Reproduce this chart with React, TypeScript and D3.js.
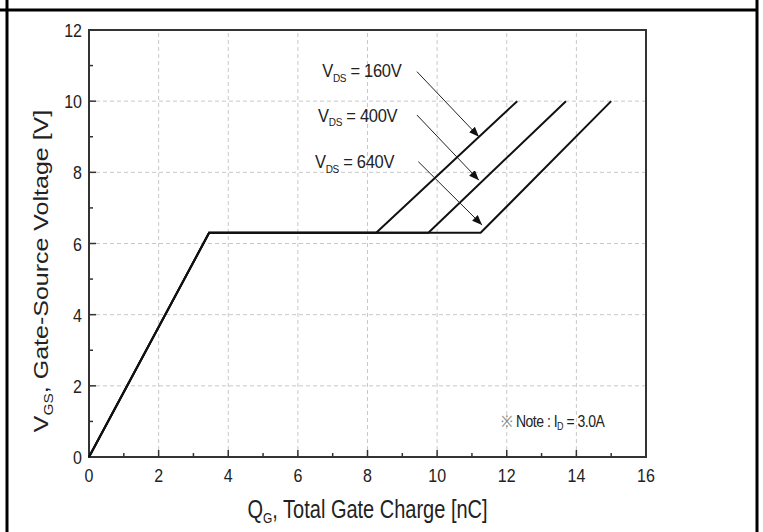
import React, { useEffect, useRef } from 'react';
import * as d3 from 'd3';

// gate charge curves (QG in nC, VGS in V)
const vdsLabels = ['160V', '400V', '640V'];
const riseQ = [0, 3.45];
const riseV = [0, 6.3];
const plateauV = 6.3;
const kneeQ = [8.25, 9.75, 11.25];
const topQ = [12.3, 13.7, 15.0];
const topV = 10;

// annotation arrows, in data units
const arrowFrom = [[9.42, 10.83], [9.42, 9.61], [9.46, 8.3]];
const arrowTo = [[11.2, 9.0], [11.2, 7.78], [11.29, 6.52]];
const labelAt = [[6.7, 10.68], [6.58, 9.42], [6.49, 8.12]];

const xTicks = [0, 2, 4, 6, 8, 10, 12, 14, 16];
const yTicks = [0, 2, 4, 6, 8, 10, 12];
const xMinor = [1, 3, 5, 7, 9, 11, 13, 15];
const yMinor = [1, 3, 5, 7, 9, 11];

const W = 763;
const H = 532;
const FONT = "'Liberation Sans', Arial, Helvetica, sans-serif";
const SY = 1.2; // source picture is a bit taller than wide

const App = () => {
  const svgRef = useRef<SVGSVGElement>(null);

  useEffect(() => {
    const svg = d3.select(svgRef.current);
    svg.selectAll('*').remove();

    const x = d3.scaleLinear().domain([0, 16]).range([89, 646]);
    const y = d3.scaleLinear().domain([0, 12]).range([457, 30]);

    svg.append('rect').attr('width', W).attr('height', H).attr('fill', '#fff');

    // table cell border around the figure
    svg.append('line').attr('x1', 0).attr('x2', 758).attr('y1', 10).attr('y2', 10)
      .attr('stroke', '#000').attr('stroke-width', 3);
    svg.append('line').attr('x1', 7).attr('x2', 7).attr('y1', 0).attr('y2', H)
      .attr('stroke', '#000').attr('stroke-width', 3);
    svg.append('line').attr('x1', 757).attr('x2', 757).attr('y1', 0).attr('y2', H)
      .attr('stroke', '#000').attr('stroke-width', 3);

    const defs = svg.append('defs');
    defs.append('marker')
      .attr('id', 'arrow')
      .attr('markerUnits', 'userSpaceOnUse')
      .attr('markerWidth', 10).attr('markerHeight', 8)
      .attr('refX', 10).attr('refY', 4)
      .attr('orient', 'auto')
      .append('path').attr('d', 'M0,0 L10,4 L0,8 z').attr('fill', '#111');

    // grid
    const grid = svg.append('g')
      .attr('stroke', '#c8c8c8').attr('stroke-width', 1).attr('stroke-dasharray', '4,3');
    xTicks.filter(t => t > 0 && t < 16).forEach(t => {
      grid.append('line').attr('x1', x(t)).attr('x2', x(t)).attr('y1', y(0)).attr('y2', y(12));
    });
    yTicks.filter(t => t > 0 && t < 12).forEach(t => {
      grid.append('line').attr('x1', x(0)).attr('x2', x(16)).attr('y1', y(t)).attr('y2', y(t));
    });

    // ticks, pointing inward
    const tk = svg.append('g').attr('stroke', '#333').attr('stroke-width', 1.5);
    xTicks.forEach(t => tk.append('line').attr('x1', x(t)).attr('x2', x(t)).attr('y1', y(0)).attr('y2', y(0) - 7));
    xMinor.forEach(t => tk.append('line').attr('x1', x(t)).attr('x2', x(t)).attr('y1', y(0)).attr('y2', y(0) - 4));
    yTicks.forEach(t => tk.append('line').attr('x1', x(0)).attr('x2', x(0) + 7).attr('y1', y(t)).attr('y2', y(t)));
    yMinor.forEach(t => tk.append('line').attr('x1', x(0)).attr('x2', x(0) + 4).attr('y1', y(t)).attr('y2', y(t)));

    // plot frame
    svg.append('rect')
      .attr('x', x(0)).attr('y', y(12))
      .attr('width', x(16) - x(0)).attr('height', y(0) - y(12))
      .attr('fill', 'none').attr('stroke', '#333').attr('stroke-width', 2);

    // stretched text helper
    const label = (px: number, py: number, size: number, anchor: string, sy = SY) =>
      svg.append('g').attr('transform', `translate(${px},${py}) scale(1,${sy})`)
        .append('text')
        .attr('text-anchor', anchor)
        .style('font-family', FONT)
        .style('font-size', `${size}px`)
        .style('fill', '#222');

    xTicks.forEach(t => label(x(t), 482, 16, 'middle').text(t));
    yTicks.forEach(t => label(82, y(t) + 7, 16, 'end').text(t));

    // curves
    const line = d3.line<number[]>().x(d => x(d[0])).y(d => y(d[1]));
    vdsLabels.forEach((_, i) => {
      const pts = [
        [riseQ[0], riseV[0]],
        [riseQ[1], riseV[1]],
        [kneeQ[i], plateauV],
        [topQ[i], topV],
      ];
      svg.append('path').attr('d', line(pts))
        .attr('fill', 'none').attr('stroke', '#111').attr('stroke-width', 2);
    });

    // arrows and VDS labels
    vdsLabels.forEach((v, i) => {
      svg.append('line')
        .attr('x1', x(arrowFrom[i][0])).attr('y1', y(arrowFrom[i][1]))
        .attr('x2', x(arrowTo[i][0])).attr('y2', y(arrowTo[i][1]))
        .attr('stroke', '#222').attr('stroke-width', 1)
        .attr('marker-end', 'url(#arrow)');
      const t = label(x(labelAt[i][0]), y(labelAt[i][1]), 16.5, 'start', 1.15)
        .style('letter-spacing', '-0.3px');
      t.append('tspan').text('V');
      t.append('tspan').attr('dy', 4).style('font-size', '10px').text('DS');
      t.append('tspan').attr('dy', -4).text(` = ${v}`);
    });

    // note
    const note = label(501, 427, 14, 'start', 1.15).style('letter-spacing', '-0.5px');
    note.append('tspan').style('fill', '#888').text('※ ');
    note.append('tspan').text('Note : I');
    note.append('tspan').attr('dy', 3).style('font-size', '9px').text('D');
    note.append('tspan').attr('dy', -3).text(' = 3.0A');

    // axis titles
    const xt = label((x(0) + x(16)) / 2, 518, 20, 'middle', 1.25);
    xt.append('tspan').text('Q');
    xt.append('tspan').attr('dy', 4).style('font-size', '12px').text('G');
    xt.append('tspan').attr('dy', -4).text(', Total Gate Charge [nC]');

    const yt = svg.append('g').attr('transform', `translate(48,271) scale(1,1.19) rotate(-90)`)
      .append('text')
      .attr('text-anchor', 'middle')
      .style('font-family', FONT)
      .style('font-size', '21px')
      .style('fill', '#222');
    yt.append('tspan').text('V');
    yt.append('tspan').attr('dy', 5).style('font-size', '13px').text('GS');
    yt.append('tspan').attr('dy', -5).text(', Gate-Source Voltage [V]');
  }, []);

  return (
    <svg ref={svgRef} width={W} height={H}
      style={{ position: 'absolute', left: 0, top: 0, display: 'block' }} />
  );
};

export default App;
